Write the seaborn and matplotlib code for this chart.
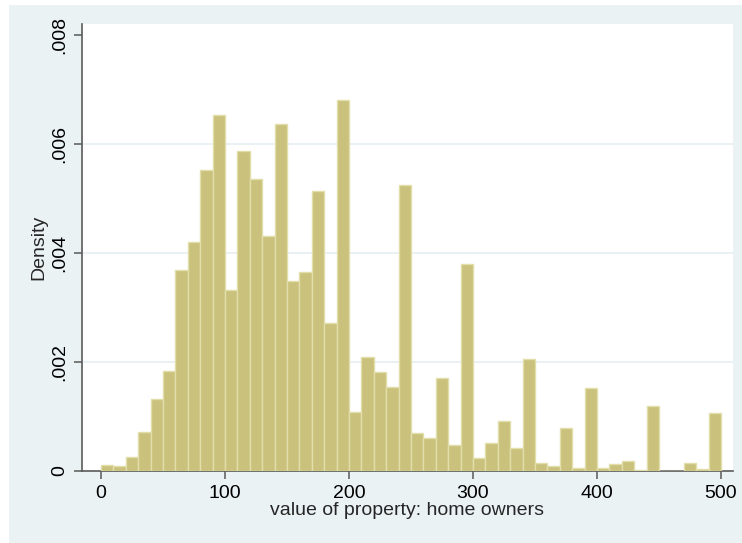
import matplotlib
matplotlib.use("Agg")
import matplotlib.pyplot as plt
import matplotlib.patches as mpatches
import seaborn as sns
import numpy as np

# Bin edges (width 10 from 0 to 500) and densities
bin_edges = list(range(0, 510, 10))
densities = [
    0.00011, 0.00009, 0.00026, 0.00071, 0.00132, 0.00183, 0.00368, 0.00421, 0.00553, 0.00653,
    0.00332, 0.00587, 0.00536, 0.00432, 0.00637, 0.00348, 0.00365, 0.00514, 0.00271, 0.00681,
    0.00109, 0.00210, 0.00181, 0.00155, 0.00525, 0.00069, 0.00060, 0.00170, 0.00047, 0.00380,
    0.00023, 0.00052, 0.00091, 0.00043, 0.00206, 0.00014, 0.00010, 0.00078, 0.00006, 0.00153,
    0.00006, 0.00013, 0.00019, 0.00002, 0.00120, 0.00000, 0.00000, 0.00015, 0.00004, 0.00107,
]
x_ticks = [0, 100, 200, 300, 400, 500]
y_ticks = [0, 0.002, 0.004, 0.006, 0.008]
y_tick_labels = ["0", ".002", ".004", ".006", ".008"]
grid_levels = [0.002, 0.004, 0.006]
x_label = "value of property: home owners"
y_label = "Density"

sns.set_style("white")
plt.rcParams["font.family"] = ["Liberation Sans Narrow", "Liberation Sans", "DejaVu Sans"]

BG = "#EAF2F3"
fig = plt.figure(figsize=(7.42, 5.43), dpi=100)
fig.patch.set_facecolor("white")
fig.patches.append(mpatches.Rectangle((9 / 742, -0.01), 1.02 - 9 / 742, 1.01 - 5 / 543,
                                      transform=fig.transFigure, facecolor=BG,
                                      edgecolor="none", zorder=-10))

ax = fig.add_axes([82 / 742, (543 - 471) / 543, (733 - 82) / 742, (471 - 24) / 543])
ax.set_facecolor("white")

centers = [(bin_edges[i] + bin_edges[i + 1]) / 2 for i in range(len(densities))]
sns.histplot(x=centers, weights=densities, bins=bin_edges, stat="count", ax=ax,
             color="#C9C17C", edgecolor="#E2DEAA", linewidth=1.0, alpha=1.0, zorder=3)

ax.set_xlim(-15.3, 509.7)
ax.set_ylim(0, 0.0082)

ax.set_xticks(x_ticks)
ax.set_xticklabels([str(v) for v in x_ticks], fontsize=14)
ax.set_yticks(y_ticks)
ax.set_yticklabels(y_tick_labels, fontsize=14, rotation=90, va="center")

for gy in grid_levels:
    ax.axhline(gy, color="#E6EFF2", linewidth=1.2, zorder=1)

for s in ["top", "right"]:
    ax.spines[s].set_visible(False)
for s in ["left", "bottom"]:
    ax.spines[s].set_color("#5A5A5A")
    ax.spines[s].set_linewidth(1.2)

ax.tick_params(axis="both", direction="out", length=6, width=1.1, color="#5A5A5A",
               labelcolor="black", pad=4, bottom=True, left=True)

ax.set_xlabel(x_label, fontsize=14, labelpad=0)
ax.set_ylabel(y_label, fontsize=14, labelpad=3)

fig.savefig("out.png", dpi=100, facecolor=fig.get_facecolor())
